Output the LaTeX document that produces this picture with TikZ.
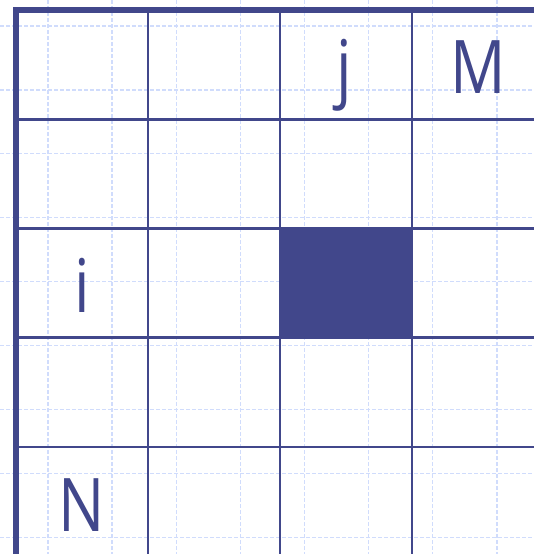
\documentclass[tikz,border=0pt]{standalone}
\usepackage{fontspec}
\setmainfont{Open Sans}
\definecolor{ink}{RGB}{65,71,139}
\definecolor{faint}{RGB}{208,220,252}
\begin{document}
\begin{tikzpicture}[x=1pt,y=-1pt,
  gridline/.style={draw=ink,line width=2.6pt},
  borderline/.style={draw=ink,line width=6pt},
  helpline/.style={draw=faint,line width=1.3pt,dash pattern=on 4pt off 2pt},
  cellfill/.style={fill=ink},
  letter/.style={text=ink,font=\fontsize{74}{74}\selectfont,anchor=base,inner sep=0pt,xscale=0.83}]
\useasboundingbox (0,0) rectangle (534,554);
\clip (0,0) rectangle (534,554);
% faint dashed background grid
\foreach \k in {0,...,7} \draw[helpline] ({48+64.14*\k},0) -- ({48+64.14*\k},554);
\foreach \k in {0,...,8} \draw[helpline] (0,{26+63.9*\k}) -- (534,{26+63.9*\k});
% filled cell
\fill[cellfill] (280,228.4) rectangle (412,337.6);
% grid lines
\foreach \x in {148,280,412} \draw[gridline] (\x,10) -- (\x,560);
\foreach \y in {119.2,228.4,337.6,446.8,555.2} \draw[gridline] (16,\y) -- (540,\y);
% thick border
\draw[borderline] (16,560) -- (16,10) -- (540,10);
% labels
\node[letter] (j) at (344,93) {j};
\node[letter] (M) at (478,93) {M};
\node[letter] (i) at (82,312) {i};
\node[letter] (N) at (82,531) {N};
\end{tikzpicture}
\end{document}
